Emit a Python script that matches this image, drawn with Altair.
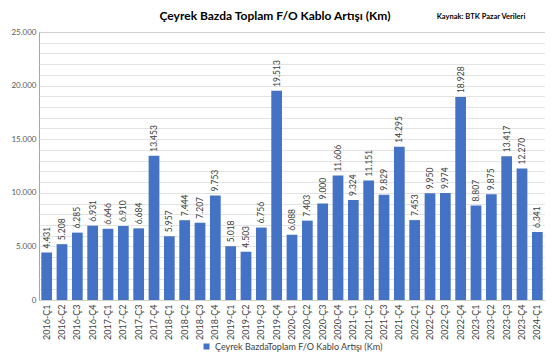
import altair as alt
import pandas as pd

quarters = [
    "2016-Ç1", "2016-Ç2", "2016-Ç3", "2016-Ç4",
    "2017-Ç1", "2017-Ç2", "2017-Ç3", "2017-Ç4",
    "2018-Ç1", "2018-Ç2", "2018-Ç3", "2018-Ç4",
    "2019-Ç1", "2019-Ç2", "2019-Ç3", "2019-Ç4",
    "2020-Ç1", "2020-Ç2", "2020-Ç3", "2020-Ç4",
    "2021-Ç1", "2021-Ç2", "2021-Ç3", "2021-Ç4",
    "2022-Ç1", "2022-Ç2", "2022-Ç3", "2022-Ç4",
    "2023-Ç1", "2023-Ç2", "2023-Ç3", "2023-Ç4",
    "2024-Ç1",
]
values = [
    4431, 5208, 6285, 6931,
    6646, 6910, 6684, 13453,
    5957, 7444, 7207, 9753,
    5018, 4503, 6756, 19513,
    6088, 7403, 9000, 11606,
    9324, 11151, 9829, 14295,
    7453, 9950, 9974, 18928,
    8807, 9875, 13417, 12270,
    6341,
]
series_name = "Çeyrek BazdaToplam  F/O Kablo Artışı (Km)"
title_text = "Çeyrek Bazda Toplam F/O Kablo Artışı (Km)"
source_text = "Kaynak: BTK Pazar Verileri"
y_ticks = list(range(0, 25001, 1000))

df = pd.DataFrame({
    "q": quarters,
    "v": values,
    "label": [f"{v:,}".replace(",", ".") for v in values],
    "s": [series_name] * len(values),
})

FONT = "Lato"
BLUE = "#4472C4"
LEFT = 31
W = 506

x = alt.X("q:N", sort=quarters, title=None,
          scale=alt.Scale(paddingInner=0.3, paddingOuter=0.15),
          axis=alt.Axis(labelAngle=-90, labelFontSize=9, labelColor="#404040",
                        labelFont=FONT, ticks=False, domain=False, labelPadding=4,
                        labelBaseline="middle", labelAlign="right"))
y = alt.Y("v:Q", title=None,
          scale=alt.Scale(domain=[0, 25000], nice=False),
          axis=alt.Axis(values=y_ticks, ticks=False, domain=False,
                        gridColor="#dcdcdc", gridWidth=0.8, labelOverlap=False,
                        labelFontSize=8, labelColor="#595959", labelFont=FONT,
                        labelPadding=3,
                        labelExpr="datum.value % 5000 == 0 ? replace(format(datum.value, ','), ',', '.') : ''"))

bars = alt.Chart(df).mark_bar(color=BLUE).encode(
    x=x, y=y,
    color=alt.Color("s:N", scale=alt.Scale(range=[BLUE]),
                    legend=alt.Legend(title=None, orient="none", legendX=163, legendY=310,
                                      symbolType="square", symbolSize=36, labelLimit=400,
                                      labelFontSize=9, labelColor="#404040",
                                      labelFont=FONT, symbolStrokeWidth=0)),
)

labels = alt.Chart(df).mark_text(angle=270, align="left", baseline="middle",
                                 dx=4, fontSize=8.5, color="#404040", font=FONT).encode(
    x=x, y=y, text="label:N")

title = alt.Chart(pd.DataFrame({"t": [title_text]})).mark_text(
    fontSize=12, fontWeight="bold", font=FONT, color="#000000", align="center",
    baseline="middle").encode(x=alt.value(236), y=alt.value(-16), text="t:N")

source = alt.Chart(pd.DataFrame({"t": [source_text]})).mark_text(
    fontSize=7.5, fontWeight="bold", font=FONT, color="#000000", align="center",
    baseline="middle").encode(x=alt.value(442), y=alt.value(-15), text="t:N")

chart = alt.layer(bars, labels, title, source).properties(
    width=W, height=268,
    padding={"left": LEFT, "top": 24, "right": 0, "bottom": 58},
    autosize=alt.AutoSizeParams(type="none"),
    background="white",
).configure_view(stroke="#a6a6a6", strokeWidth=1)

chart.save("out.html", embed_options={"renderer": "svg", "actions": False})
